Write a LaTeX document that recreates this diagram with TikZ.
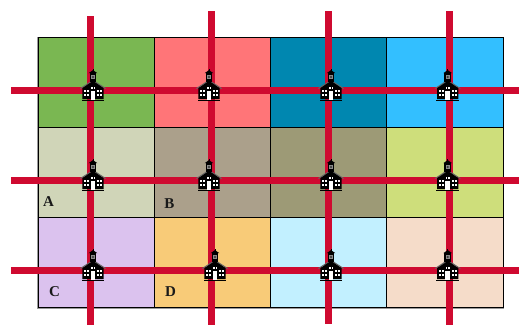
\documentclass[tikz,border=0pt]{standalone}
\usepackage{fontspec}
\setmainfont{Liberation Serif}
\definecolor{roadc}{HTML}{CF0A30}
\definecolor{c11}{HTML}{7AB752}\definecolor{c12}{HTML}{FF7578}\definecolor{c13}{HTML}{0087B0}\definecolor{c14}{HTML}{33BFFF}
\definecolor{c21}{HTML}{D0D5B8}\definecolor{c22}{HTML}{ABA08B}\definecolor{c23}{HTML}{9D9A76}\definecolor{c24}{HTML}{CEDE7B}
\definecolor{c31}{HTML}{DBC2EE}\definecolor{c32}{HTML}{F8CB78}\definecolor{c33}{HTML}{C2F0FF}\definecolor{c34}{HTML}{F5DCC9}
\tikzset{
  cell/.style={draw=black,line width=0.8pt},
  road/.style={draw=roadc,line width=7pt},
  letter/.style={font=\fontsize{15}{15}\selectfont\bfseries,text=black!90,inner sep=0pt},
  pics/school/.style={code={
    % eaves
    \fill[black!60] (-13,-12.4) -- (0,-21) -- (13,-12.4) -- (12.2,-11.8) -- (0,-19.6) -- (-12.2,-11.8) -- cycle;
    % roof and body
    \fill[black] (-10.6,-12.6) -- (0,-19.8) -- (10.6,-12.6) -- (10.6,-1.5) -- (-10.6,-1.5) -- cycle;
    % ground line
    \fill[black] (-11.3,-1) rectangle (11.3,0);
    % door
    \fill[white] (-2.4,-10.2) rectangle (2.4,-0.8);
    \fill[white] (-2,-13.6) rectangle (2,-11.6);
    \draw[black,line width=0.7pt] (0,-13.6) -- (0,-11.6);
    % windows
    \foreach \s in {-1,1}{
      \fill[white] (\s*4.2,-10.4) rectangle (\s*8.8,-4.9);
      \draw[black,line width=1.1pt] (\s*6.5,-10.4) -- (\s*6.5,-4.9) (\s*4.2,-7.7) -- (\s*8.8,-7.7);
    }
    % tower
    \fill[black] (-3.3,-27.8) rectangle (3.3,-19);
    \fill[black!45] (-1.9,-26) rectangle (1.9,-21.5);
    \fill[black!80] (0,-23.7) circle (1.1);
    \fill[black] (-4.4,-27.5) -- (0,-30.6) -- (4.4,-27.5) -- cycle;
    \fill[black] (-0.45,-31.4) rectangle (0.45,-30);
  }}
}
\begin{document}
\begin{tikzpicture}[x=1pt,y=-1pt]
\useasboundingbox (0,0) rectangle (519,325);
% soft shadow edge of the block
\fill[black!40] (36.8,37) rectangle (504.3,308.8);
% cells
\foreach \r/\ya/\yb in {1/37.5/127.5,2/127.5/217.5,3/217.5/307.5}{
  \foreach \c/\xa/\xb in {1/38/154.5,2/154.5/270.5,3/270.5/386.5,4/386.5/503}{
    \filldraw[cell,fill=c\r\c] (\xa,\ya) rectangle (\xb,\yb);
  }
}
% roads
\coordinate (h1a) at (11,90.5);  \coordinate (h1b) at (519,90.5);
\coordinate (h2a) at (11,180.5); \coordinate (h2b) at (519,180.5);
\coordinate (h3a) at (11,270.5); \coordinate (h3b) at (519,270.5);
\coordinate (v1a) at (90.7,16);  \coordinate (v1b) at (90.7,325);
\coordinate (v2a) at (211.7,11); \coordinate (v2b) at (211.7,325);
\coordinate (v3a) at (328,11);   \coordinate (v3b) at (328,324);
\coordinate (v4a) at (449.5,11); \coordinate (v4b) at (449.5,325);
\draw[road] (v1a) -- (v1b);
\draw[road] (v2a) -- (v2b);
\draw[road] (v3a) -- (v3b);
\draw[road] (v4a) -- (v4b);
\draw[road] (h1a) -- (h1b);
\draw[road] (h2a) -- (h2b);
\draw[road] (h3a) -- (h3b);
% schools
\pic at (93,100.7) {school};
\pic at (209,100.7) {school};
\pic at (331,100.7) {school};
\pic at (447.7,100.7) {school};
\pic at (93,190.7) {school};
\pic at (209,190.7) {school};
\pic at (331,190.7) {school};
\pic at (447.7,190.7) {school};
\pic at (93,280.7) {school};
\pic at (215,280.7) {school};
\pic at (331,280.7) {school};
\pic at (447.7,280.7) {school};
% labels
\node[letter] (la) at (48.5,202) {A};
\node[letter] (lb) at (169.5,204) {B};
\node[letter] (lc) at (54.5,292) {C};
\node[letter] (ld) at (170.5,292) {D};
\end{tikzpicture}
\end{document}
